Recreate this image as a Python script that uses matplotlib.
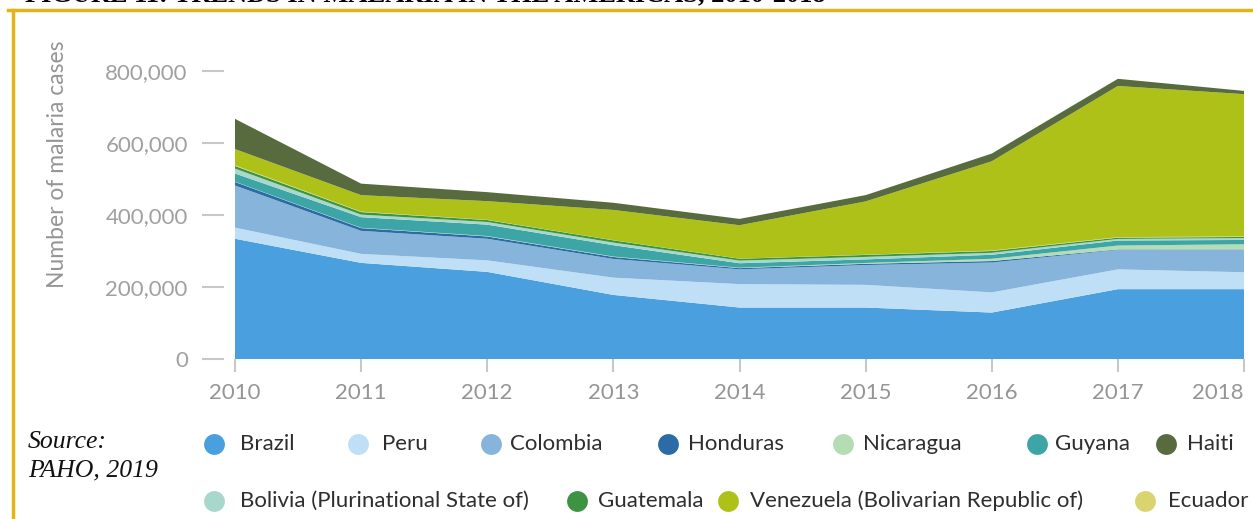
import matplotlib
matplotlib.use("Agg")
import matplotlib.pyplot as plt
from matplotlib.lines import Line2D
import numpy as np

years = [2010, 2011, 2012, 2013, 2014, 2015, 2016, 2017, 2018]

# stacking order (bottom to top)
series_names = ["Brazil", "Peru", "Colombia", "Honduras", "Nicaragua", "Guyana",
                "Bolivia (Plurinational State of)", "Guatemala", "Ecuador",
                "Venezuela (Bolivarian Republic of)", "Haiti"]

brazil    = [334000, 267000, 242000, 178000, 143000, 143000, 129000, 194000, 194000]
peru      = [31000, 25000, 32000, 48000, 65000, 63000, 56000, 55000, 47000]
colombia  = [117000, 64000, 60000, 52000, 41000, 55000, 83000, 54000, 63000]
honduras  = [9700, 7600, 6400, 5400, 3400, 3500, 4100, 1300, 700]
nicaragua = [700, 900, 1200, 1200, 1200, 2300, 6300, 10900, 14000]
guyana    = [22800, 29500, 31600, 31500, 12400, 9900, 11100, 13900, 12000]
bolivia   = [13800, 7100, 7400, 7300, 7400, 6900, 5600, 4300, 5300]
guatemala = [7200, 7000, 5300, 6200, 5000, 5500, 4900, 3700, 3000]
ecuador   = [1900, 1200, 600, 400, 200, 600, 1200, 1300, 1700]
venezuela = [45000, 45800, 52000, 84000, 93000, 148000, 248000, 420000, 395000]
haiti     = [84000, 32000, 25000, 20000, 17600, 17500, 21400, 19900, 9000]

series_values = [brazil, peru, colombia, honduras, nicaragua, guyana, bolivia,
                 guatemala, ecuador, venezuela, haiti]

colors = {
    "Brazil": "#4A9FDF",
    "Peru": "#BEDFF6",
    "Colombia": "#86B4DA",
    "Honduras": "#2C6BA5",
    "Nicaragua": "#B4DDB3",
    "Guyana": "#3EA5A6",
    "Haiti": "#576B3F",
    "Bolivia (Plurinational State of)": "#A8D8CB",
    "Guatemala": "#3C9443",
    "Venezuela (Bolivarian Republic of)": "#AEC118",
    "Ecuador": "#D9D470",
}

yticks = [0, 200000, 400000, 600000, 800000]
ytick_labels = ["0", "200,000", "400,000", "600,000", "800,000"]

legend_row1 = ["Brazil", "Peru", "Colombia", "Honduras", "Nicaragua", "Guyana", "Haiti"]
legend_row2 = ["Bolivia (Plurinational State of)", "Guatemala",
               "Venezuela (Bolivarian Republic of)", "Ecuador"]

cond = ["Lato", "DejaVu Sans"]

W, H = 1253, 519
fig = plt.figure(figsize=(W / 100, H / 100), dpi=100)

def fx(px):
    return px / W

def fy(py):
    return 1 - py / H

# main axes
x0, x1 = 235, 1244
ybot, ytop = 359, 53
ax = fig.add_axes([fx(x0), fy(ybot), fx(x1) - fx(x0), fy(ytop) - fy(ybot)])
ax.stackplot(years, *series_values, colors=[colors[n] for n in series_names],
             linewidth=0)
ax.set_xlim(2010, 2018)
ax.set_ylim(0, 850000)
for s in ax.spines.values():
    s.set_visible(False)
ax.spines['left'].set_position(('outward', 8))
ax.set_yticks(yticks)
ax.set_yticklabels(ytick_labels, fontfamily=cond, fontsize=16, color="#A0A0A0")
ax.set_xticks(years)
xlabels = ax.set_xticklabels([str(y) for y in years], fontfamily=cond, fontsize=16,
                             color="#959595")
xlabels[-1].set_horizontalalignment('right')
ax.tick_params(axis='y', length=16, width=1.5, color="#C8C8C8", pad=10)
ax.tick_params(axis='x', length=9, width=1.5, color="#C8C8C8", pad=8)
ax.set_ylabel("Number of malaria cases", fontfamily=cond, fontsize=16.5,
              color="#959595")
ax.yaxis.set_label_coords((68 - x0) / (x1 - x0), (ybot - 164) / (ybot - ytop))

# frame lines (yellow)
gold = "#E2B415"
fig.add_artist(Line2D([fx(8), fx(W)], [fy(10), fy(10)], color=gold, lw=2.5,
                      transform=fig.transFigure))
fig.add_artist(Line2D([fx(12.5), fx(12.5)], [fy(10), fy(H)], color=gold, lw=2.5,
                      transform=fig.transFigure))

# clipped title at top
fig.text(fx(25), fy(1.5), "FIGURE 11: TRENDS IN MALARIA IN THE AMERICAS, 2010-2018",
         fontfamily="Liberation Serif", fontweight="bold", fontsize=19,
         color="black", va="baseline", ha="left")

# source
fig.text(fx(28), fy(442), "Source:", fontfamily="Liberation Serif", style="italic",
         fontsize=18.5, color="#111111", va="center", ha="left")
fig.text(fx(28), fy(470), "PAHO, 2019", fontfamily="Liberation Serif", style="italic",
         fontsize=18.5, color="#111111", va="center", ha="left")

# legend (manual)
row1_circles = [214, 358, 491, 668, 843, 1037, 1166]
row1_text = [240, 382, 510, 688, 863, 1055, 1187]
row2_circles = [214, 577, 728, 1145]
row2_text = [240, 598, 750, 1168]

def legend_row(names, cx, tx, py):
    for n, c, t in zip(names, cx, tx):
        fig.add_artist(Line2D([fx(c)], [fy(py)], marker='o', markersize=15,
                              markerfacecolor=colors[n], markeredgewidth=0,
                              linestyle='None', transform=fig.transFigure))
        fig.text(fx(t), fy(py), n, fontfamily=cond, fontsize=16,
                 color="#2E2E2E", va="center", ha="left")

legend_row(legend_row1, row1_circles, row1_text, 444)
legend_row(legend_row2, row2_circles, row2_text, 501)

fig.savefig("out.png", dpi=100)
